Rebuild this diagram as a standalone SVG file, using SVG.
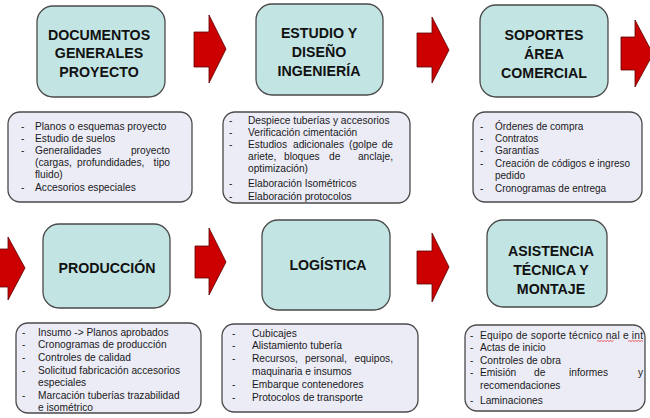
<svg xmlns="http://www.w3.org/2000/svg" width="650" height="418" viewBox="0 0 650 418">
<defs>
<style>
.hd{fill:#c2e4e3;stroke:#4a4a4a;stroke-width:1.3}
.ls{fill:#ececf7;stroke:#4a4a4a;stroke-width:1.3}
.t{font-family:"Liberation Sans",Arial,sans-serif;font-weight:bold;font-size:14.2px;fill:#111;text-anchor:middle}
.l{font-family:"Liberation Sans",Arial,sans-serif;font-size:10.2px;fill:#1a1a1a}
.e{text-anchor:end}
.m{text-anchor:middle}
.ar{fill:#cc0000;stroke:#5a0000;stroke-width:0.8;stroke-linejoin:miter}
.sq{fill:none;stroke:#e02020;stroke-width:0.7}
</style>
</defs>
<rect width="650" height="418" fill="#ffffff"/>

<g id="connectors">
<polygon class="ar" points="194,32 209,32 209,15 226,49 209,83 209,67 194,67"/>
<polygon class="ar" points="417,33 432,33 432,17 449,50 432,83 432,67 417,67"/>
<polygon class="ar" points="621,37 635,37 635,20 653,54 635,87 635,70 621,70"/>
<polygon class="ar" points="-3,249 8,249 8,237 25,268 8,300 8,287 -3,287"/>
<polygon class="ar" points="195,246 209,246 209,228 226,262 209,295 209,278 195,278"/>
<polygon class="ar" points="417,251 432,251 432,233 449,267 432,302 432,284 417,284"/>
</g>

<g id="documentos">
<rect class="hd" x="37" y="6" width="128" height="91" rx="16"/>
<text class="t" x="99" y="40">DOCUMENTOS</text>
<text class="t" x="99" y="58">GENERALES</text>
<text class="t" x="99" y="77">PROYECTO</text>
<rect class="ls" x="8" y="112" width="184" height="90" rx="12"/>
<g class="l">
<text x="21" y="129.5">-</text><text x="35" y="129.5">Planos o esquemas proyecto</text>
<text x="21" y="141.5">-</text><text x="35" y="141.5">Estudio de suelos</text>
<text x="21" y="154">-</text><text x="35" y="154">Generalidades</text><text class="e" x="170" y="154">proyecto</text>
<text x="35" y="166">(cargas,</text><text x="77" y="166">profundidades,</text><text class="e" x="170" y="166">tipo</text>
<text x="35" y="178">fluido)</text>
<text x="21" y="191">-</text><text x="35" y="191">Accesorios especiales</text>
</g>
</g>

<g id="estudio">
<rect class="hd" x="256" y="4" width="127" height="91" rx="16"/>
<text class="t" x="319" y="38">ESTUDIO Y</text>
<text class="t" x="319" y="57">DISEÑO</text>
<text class="t" x="319" y="76">INGENIERÍA</text>
<rect class="ls" x="223" y="112" width="187" height="91" rx="12"/>
<g class="l">
<text x="229" y="124">-</text><text x="248" y="124">Despiece tuberías y accesorios</text>
<text x="229" y="136">-</text><text x="248" y="136">Verificación cimentación</text>
<text x="229" y="148">-</text><text x="248" y="148">Estudios</text><text x="293" y="148">adicionales</text><text x="349" y="148">(golpe</text><text class="e" x="393" y="148">de</text>
<text x="248" y="160">ariete,</text><text x="284" y="160">bloques</text><text x="329" y="160">de</text><text class="e" x="393" y="160">anclaje,</text>
<text x="248" y="172">optimización)</text>
<text x="229" y="187">-</text><text x="248" y="187">Elaboración Isométricos</text>
<text x="229" y="200">-</text><text x="248" y="200">Elaboración protocolos</text>
</g>
</g>

<g id="soportes">
<rect class="hd" x="480" y="5" width="128" height="92" rx="16"/>
<text class="t" x="544" y="40">SOPORTES</text>
<text class="t" x="544" y="59">ÁREA</text>
<text class="t" x="544" y="78">COMERCIAL</text>
<rect class="ls" x="473" y="112" width="169" height="90" rx="12"/>
<g class="l" style="font-size:10px">
<text x="480" y="129.5">-</text><text x="495" y="129.5">Órdenes de compra</text>
<text x="480" y="141.5">-</text><text x="495" y="141.5">Contratos</text>
<text x="480" y="154">-</text><text x="495" y="154">Garantías</text>
<text x="480" y="166.5">-</text><text x="495" y="166.5">Creación de códigos e ingreso</text>
<text x="495" y="178.5">pedido</text>
<text x="480" y="191.5">-</text><text x="495" y="191.5">Cronogramas de entrega</text>
</g>
</g>

<g id="produccion">
<rect class="hd" x="43" y="224" width="127" height="84" rx="16"/>
<text class="t" x="107" y="273">PRODUCCIÓN</text>
<rect class="ls" x="16" y="323" width="185" height="90" rx="12"/>
<g class="l">
<text x="22" y="336">-</text><text x="38" y="336">Insumo -&gt; Planos aprobados</text>
<text x="22" y="348">-</text><text x="38" y="348">Cronogramas de producción</text>
<text x="22" y="361">-</text><text x="38" y="361">Controles de calidad</text>
<text x="22" y="374">-</text><text x="38" y="374">Solicitud fabricación accesorios</text>
<text x="38" y="386">especiales</text>
<text x="22" y="399">-</text><text x="38" y="399">Marcación tuberías trazabilidad</text>
<text x="38" y="411">e isométrico</text>
</g>
</g>

<g id="logistica">
<rect class="hd" x="262" y="220" width="128" height="90" rx="16"/>
<text class="t" x="328" y="270">LOGÍSTICA</text>
<rect class="ls" x="222" y="324" width="196" height="88" rx="12"/>
<g class="l">
<text x="232" y="337">-</text><text x="252" y="337">Cubicajes</text>
<text x="232" y="348.5">-</text><text x="252" y="348.5">Alistamiento tubería</text>
<text x="232" y="361.5">-</text><text x="252" y="361.5">Recursos,</text><text x="305" y="361.5">personal,</text><text class="e" x="393" y="361.5">equipos,</text>
<text x="252" y="375">maquinaria e insumos</text>
<text x="232" y="388">-</text><text x="252" y="388">Embarque contenedores</text>
<text x="232" y="401">-</text><text x="252" y="401">Protocolos de transporte</text>
</g>
</g>

<g id="asistencia">
<rect class="hd" x="487" y="220" width="120" height="87" rx="16"/>
<text class="t" x="551" y="256">ASISTENCIA</text>
<text class="t" x="551" y="275">TÉCNICA Y</text>
<text class="t" x="551" y="294">MONTAJE</text>
<rect class="ls" x="465" y="325" width="180" height="86" rx="12"/>
<g class="l">
<text x="470" y="339">-</text><text x="480" y="339" textLength="163" lengthAdjust="spacing">Equipo de soporte técnico nal e int</text>
<text x="470" y="351">-</text><text x="480" y="351">Actas de inicio</text>
<text x="470" y="364">-</text><text x="480" y="364">Controles de obra</text>
<text x="470" y="376">-</text><text x="480" y="376">Emisión</text><text x="534" y="376">de</text><text x="569" y="376">informes</text><text class="e" x="643" y="376">y</text>
<text x="480" y="389">recomendaciones</text>
<text x="470" y="404">-</text><text x="480" y="404">Laminaciones</text>
</g>
<path class="sq" d="M597,341.5 l1.5,-1 l1.5,1 l1.5,-1 l1.5,1 l1.5,-1 l1.5,1 l1.5,-1 l1.5,1 l1.5,-1 l1.5,1 l1.5,-1"/>
<path class="sq" d="M628,341.5 l1.5,-1 l1.5,1 l1.5,-1 l1.5,1 l1.5,-1 l1.5,1 l1.5,-1 l1.5,1 l1.5,-1 l1.5,1"/>
</g>
</svg>
